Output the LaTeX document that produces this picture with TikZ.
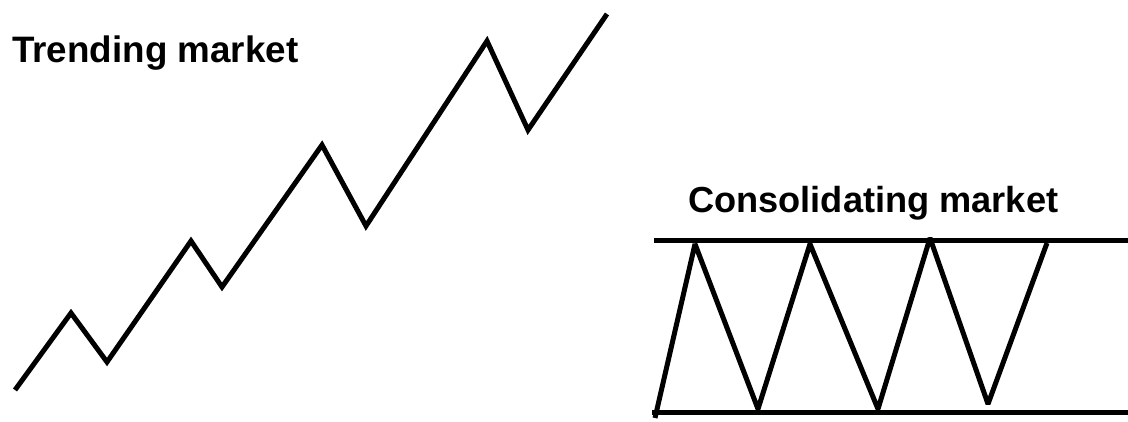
\documentclass[tikz,border=0pt]{standalone}
\usepackage{fontspec}
\setmainfont{Liberation Sans}
\begin{document}
\begin{tikzpicture}[x=1pt,y=-1pt,
  lbl/.style={anchor=base west,inner sep=0pt,font=\fontsize{36.8}{40}\selectfont\bfseries},
  lblb/.style={anchor=base west,inner sep=0pt,font=\fontsize{36.2}{40}\selectfont\bfseries},
  pline/.style={line width=5pt,black}]
\useasboundingbox (0,0) rectangle (1128,422);
% Trending market
\node[lbl] (t1) at (12,63) {Trending market};
\coordinate (a0) at (15,390);
\coordinate (a1) at (71,313);
\coordinate (a2) at (107,362);
\coordinate (a3) at (191,241);
\coordinate (a4) at (222,287);
\coordinate (a5) at (322,145);
\coordinate (a6) at (366,226);
\coordinate (a7) at (487,41);
\coordinate (a8) at (528,130);
\coordinate (a9) at (607,14);
\draw[pline,line join=miter] (a0) -- (a1) -- (a2) -- (a3) -- (a4) -- (a5) -- (a6) -- (a7) -- (a8) -- (a9);
% Consolidating market
\node[lblb] (t2) at (688,213) {Consolidating market};
\coordinate (tl) at (654,241);
\coordinate (tr) at (1128,241);
\coordinate (bl) at (652,412);
\coordinate (br) at (1128,412);
\draw[pline] (tl) -- (tr);
\draw[pline] (bl) -- (br);
\coordinate (c0) at (655,418);
\coordinate (c1) at (695,244);
\coordinate (c2) at (758,409);
\coordinate (c3) at (810,244);
\coordinate (c4) at (878,409);
\coordinate (c5) at (930,238);
\coordinate (c6) at (988,404);
\coordinate (c7) at (1047,243);
\draw[pline,line join=bevel] (c0) -- (c1) -- (c2) -- (c3) -- (c4) -- (c5) -- (c6) -- (c7);
\end{tikzpicture}
\end{document}
